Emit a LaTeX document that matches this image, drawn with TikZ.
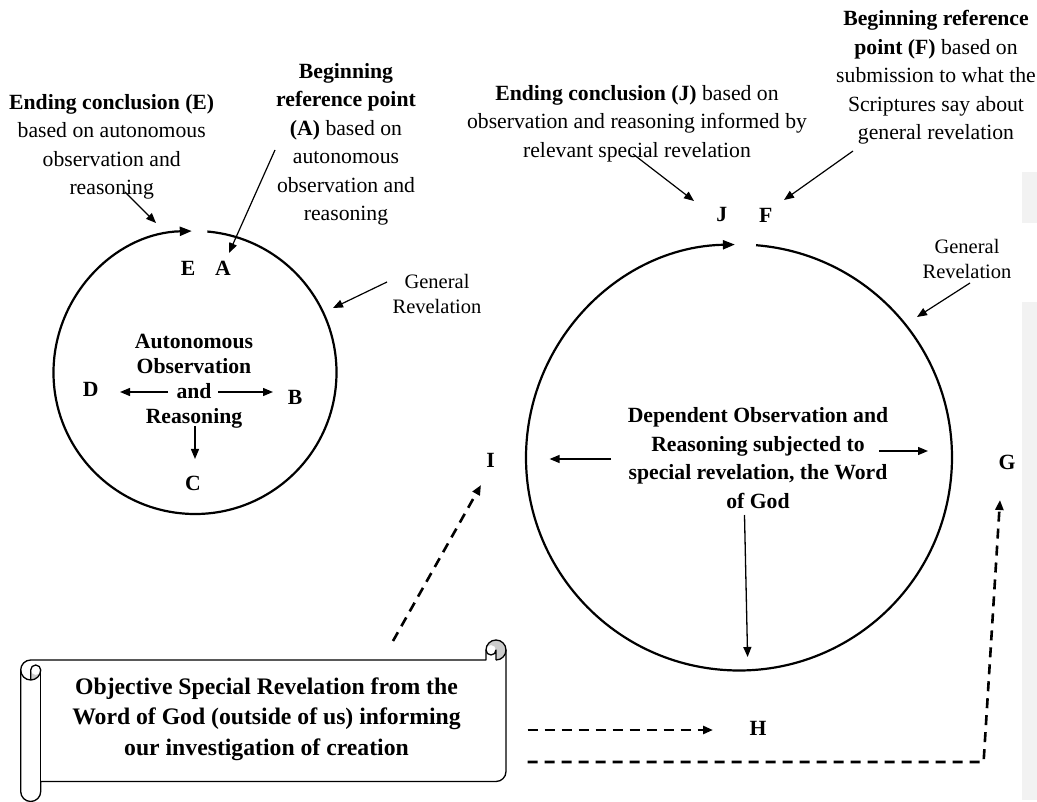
\documentclass[tikz,border=0pt]{standalone}
\usepackage{fontspec}
\setmainfont{Liberation Serif}
\usetikzlibrary{arrows.meta}
\definecolor{panelgray}{HTML}{F2F2F2}
\definecolor{curlgray}{HTML}{CCCCCC}
\begin{document}
\begin{tikzpicture}[x=1pt,y=-1pt,
  txt/.style={align=center,inner sep=0pt,font=\fontsize{21.7}{28.5}\selectfont},
  btxt/.style={align=center,inner sep=0pt,font=\fontsize{21.7}{25}\selectfont\bfseries},
  rtxt/.style={align=center,inner sep=0pt,font=\fontsize{21.7}{28.7}\selectfont\bfseries},
  stxt/.style={align=center,inner sep=0pt,font=\fontsize{23.7}{30.7}\selectfont\bfseries},
  grtxt/.style={align=center,inner sep=0pt,font=\fontsize{20.5}{25}\selectfont},
  lbl/.style={inner sep=0pt,font=\fontsize{21.7}{26}\selectfont\bfseries},
  ptr/.style={line width=1.2pt,-{Triangle[length=10pt,width=8pt]}},
  ring/.style={line width=2.2pt,-{Triangle[length=12pt,width=9pt]}},
  inarrow/.style={line width=1.3pt,-{Triangle[length=10pt,width=8pt]}},
  dsh/.style={line width=2.6pt,dash pattern=on 10pt off 7pt,-{Triangle[length=10pt,width=8pt]}},
  scrollline/.style={line width=1.3pt,line join=round},
]
\useasboundingbox (0,0) rectangle (1037,802);
% light gray panels at right edge
\fill[panelgray] (1021.7,172) rectangle (1037,222.7);
\fill[panelgray] (1021.7,301.7) rectangle (1037,800);

% centres of the two circles
\coordinate (cL) at (195,372.5);
\coordinate (cR) at (739,457.5);

% circles with gap and arrow at top
\draw[ring] (cL) ++(-85:141.5) arc[start angle=-85,end angle=268.7,radius=141.5];
\draw[ring] (cR) ++(-85.4:213) arc[start angle=-85.4,end angle=268.9,radius=213];

% ---- text blocks ----
\node[txt] (tE) at (111.7,147) {\textbf{Ending conclusion (E)}\\based on autonomous\\observation and\\reasoning};
\node[txt] (tA) at (346,144.5) {\textbf{Beginning}\\\textbf{reference point}\\\textbf{(A)} based on\\autonomous\\observation and\\reasoning};
\node[txt] (tJ) at (637,123.5) {\textbf{Ending conclusion (J)} based on\\observation and reasoning informed by\\relevant special revelation};
\node[txt] (tF) at (936,77.5) {\textbf{Beginning reference}\\\textbf{point (F)} based on\\submission to what the\\Scriptures say about\\general revelation};
\node[grtxt] (gr1) at (437,294) {General\\Revelation};
\node[grtxt] (gr2) at (967,259) {General\\Revelation};
\node[btxt] (inL) at (194,381) {Autonomous\\Observation\\and\\Reasoning};
\node[rtxt] (inR) at (758,458) {Dependent Observation and\\Reasoning subjected to\\special revelation, the Word\\of God};

% ---- letter labels ----
\node[lbl] (E) at (188,268) {E};
\node[lbl] (A) at (223,268) {A};
\node[lbl] (D) at (90.7,389) {D};
\node[lbl] (B) at (295,397) {B};
\node[lbl] (C) at (193,483) {C};
\node[lbl] (J) at (721.7,215) {J};
\node[lbl] (F) at (765.7,215) {F};
\node[lbl] (I) at (490.6,460) {I};
\node[lbl] (G) at (1007,462) {G};
\node[lbl] (H) at (758,728) {H};

% ---- pointer arrows ----
\coordinate (pE1) at (125,192);   \coordinate (pE2) at (156,223);
\coordinate (pA1) at (275,150);   \coordinate (pA2) at (229,253);
\coordinate (pG1) at (387,282);   \coordinate (pG2) at (333,308);
\coordinate (pJ1) at (633,154);   \coordinate (pJ2) at (694,201);
\coordinate (pF1) at (853,151);   \coordinate (pF2) at (784,200);
\coordinate (pR1) at (970,283);   \coordinate (pR2) at (917,317);
\draw[ptr] (pE1) -- (pE2);
\draw[ptr] (pA1) -- (pA2);
\draw[ptr] (pG1) -- (pG2);
\draw[ptr] (pJ1) -- (pJ2);
\draw[ptr] (pF1) -- (pF2);
\draw[ptr] (pR1) -- (pR2);

% ---- arrows inside left circle ----
\coordinate (dL1) at (168,392);  \coordinate (dL2) at (120,392);
\coordinate (bL1) at (218,392);  \coordinate (bL2) at (273,392);
\coordinate (cc1) at (195,426);  \coordinate (cc2) at (195,459);
\draw[inarrow] (dL1) -- (dL2);
\draw[inarrow] (bL1) -- (bL2);
\draw[inarrow] (cc1) -- (cc2);

% ---- arrows inside right circle ----
\coordinate (iR1) at (611,459);   \coordinate (iR2) at (549.6,459);
\coordinate (gR1) at (879,451);   \coordinate (gR2) at (928,451);
\coordinate (hR1) at (744.5,515); \coordinate (hR2) at (747.6,657);
\draw[inarrow] (iR1) -- (iR2);
\draw[inarrow] (gR1) -- (gR2);
\draw[inarrow] (hR1) -- (hR2);

% ---- scroll ----
\fill[white] (20.7,670) arc[start angle=180,end angle=270,radius=10] -- (486,660) -- (486,650)
  arc[start angle=180,end angle=360,radius=10] -- (506,771.5)
  arc[start angle=0,end angle=90,radius=10] -- (40.7,781.5) -- (40.7,791.5)
  arc[start angle=0,end angle=180,radius=10] -- cycle;
\fill[curlgray] (30.7,680) arc[start angle=90,end angle=0,radius=10]
  arc[start angle=0,end angle=180,radius=5] -- cycle;
\fill[curlgray] (496,660) arc[start angle=90,end angle=-180,radius=10]
  arc[start angle=180,end angle=360,radius=5] -- cycle;
\draw[scrollline] (20.7,670) arc[start angle=180,end angle=270,radius=10] -- (486,660) -- (486,650)
  arc[start angle=180,end angle=360,radius=10] -- (506,771.5)
  arc[start angle=0,end angle=90,radius=10] -- (40.7,781.5) -- (40.7,791.5)
  arc[start angle=0,end angle=180,radius=10] -- cycle;
\draw[scrollline] (496,660) -- (496,650) arc[start angle=0,end angle=180,radius=5];
\draw[scrollline] (496,660) arc[start angle=90,end angle=0,radius=10];
\draw[scrollline] (30.7,680) -- (30.7,670) arc[start angle=180,end angle=360,radius=5]
  arc[start angle=0,end angle=180,radius=10];
\draw[scrollline] (40.7,670) -- (40.7,781.5);
\node[stxt] (scroll) at (266.5,719) {Objective Special Revelation from the\\Word of God (outside of us) informing\\our investigation of creation};

% ---- dashed arrows from the scroll ----
\coordinate (sI1) at (393,641);   \coordinate (sI2) at (481,485);
\coordinate (sH1) at (527.5,730); \coordinate (sH2) at (713,730);
\coordinate (sG1) at (527.5,762); \coordinate (sGc) at (983.6,762); \coordinate (sG2) at (1000,500);
\draw[dsh] (sI1) -- (sI2);
\draw[dsh] (sH1) -- (sH2);
\draw[dsh] (sG1) -- (sGc) -- (sG2);
\end{tikzpicture}
\end{document}
